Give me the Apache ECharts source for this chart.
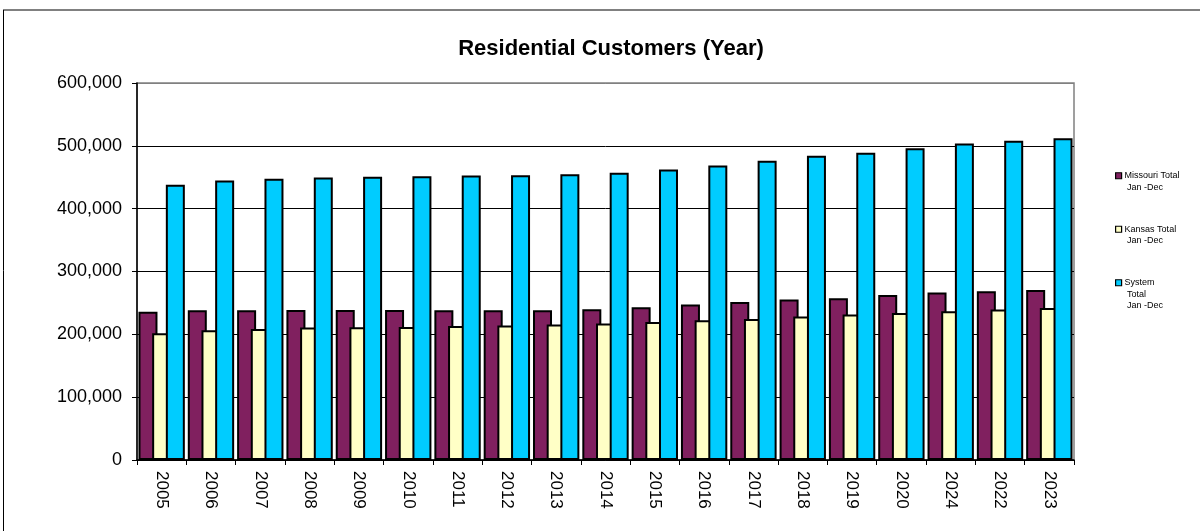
<!DOCTYPE html>
<html>
<head>
<meta charset="utf-8">
<script src="https://cdn.jsdelivr.net/npm/echarts@6/dist/echarts.min.js"></script>
<style>
html,body{margin:0;padding:0;background:#fff;}
#chart{width:1200px;height:531px;}
</style>
</head>
<body>
<div id="chart"></div>
<script>
const years = ['2005','2006','2007','2008','2009','2010','2011','2012','2013','2014','2015','2016','2017','2018','2019','2020','2024','2022','2023'];
const missouri = [236000, 238300, 238300, 238900, 238900, 238900, 238300, 238300, 238300, 239900, 243100, 247300, 251600, 255300, 257400, 262700, 266400, 268600, 270700];
const kansas = [201700, 206500, 208600, 210700, 211300, 211800, 213400, 213900, 215500, 217100, 219700, 222400, 224500, 228200, 231400, 234100, 236800, 239400, 242000];
const system = [437900, 444700, 447500, 449600, 450600, 451700, 452700, 453300, 454900, 457000, 462300, 468600, 476100, 484100, 488900, 496300, 503700, 508000, 512200];
const seriesNames = ['Missouri Total Jan -Dec', 'Kansas Total Jan -Dec', 'System Total Jan -Dec'];
const legendLabels = ['\nMissouri Total\n Jan -Dec', '\nKansas Total\n Jan -Dec', '\n\nSystem\n Total\n Jan -Dec'];
const colors = ['#80205F', '#FFFFC6', '#00CCFF'];
const title = 'Residential Customers (Year)';

const FONT = 'Liberation Sans, Arial, sans-serif';
const chart = echarts.init(document.getElementById('chart'));

function mkLegend(i, top) {
  return {
    data: [seriesNames[i]],
    left: 1115, top: top, padding: 0,
    orient: 'vertical',
    icon: 'rect', itemWidth: 6, itemHeight: 6,
    itemStyle: { borderColor: '#000', borderWidth: 1.2 },
    formatter: function () { return legendLabels[i]; },
    textStyle: { fontFamily: FONT, fontSize: 9, lineHeight: 11.5, color: '#000', padding: [0,0,0,-2] },
    selectedMode: false
  };
}

const seriesData = [missouri, kansas, system];

chart.setOption({
  animation: false,
  backgroundColor: '#fff',
  title: {
    text: title, left: 606, textAlign: 'center', top: 33,
    textStyle: { fontFamily: FONT, fontSize: 22, fontWeight: 'bold', color: '#000' }
  },
  legend: [mkLegend(0, 158.5), mkLegend(1, 212), mkLegend(2, 254)],
  grid: { left: 137, right: 126, top: 83, bottom: 71, show: true, borderColor: '#808080', borderWidth: 1.5, backgroundColor: '#fff' },
  xAxis: {
    type: 'category', data: years,
    axisLine: { lineStyle: { color: '#000', width: 1.5 } },
    axisTick: { show: true, length: 5, lineStyle: { color: '#000' } },
    axisLabel: { rotate: -90, margin: 11, fontFamily: FONT, fontSize: 17, color: '#000' }
  },
  yAxis: {
    type: 'value', min: 0, max: 600000, interval: 100000,
    axisLine: { show: true, lineStyle: { color: '#000', width: 1.5 } },
    axisTick: { show: true, length: 5, lineStyle: { color: '#000' } },
    splitLine: { show: true, lineStyle: { color: ['#000','#000','#000','#000','#000','#000','#808080'], width: 1 } },
    axisLabel: {
      margin: 15, fontFamily: FONT, fontSize: 18, color: '#000',
      formatter: function (v) { return v.toLocaleString('en-US'); }
    }
  },
  series: seriesData.map(function (d, i) {
    return {
      name: seriesNames[i], type: 'bar', data: d,
      barWidth: 19, barGap: '-28%',
      itemStyle: { color: colors[i], borderColor: '#000', borderWidth: 2 }
    };
  }),
  graphic: [
    { type: 'line', shape: { x1: 3, y1: 10, x2: 1200, y2: 10 }, style: { stroke: '#808080', lineWidth: 2 }, silent: true },
    { type: 'line', shape: { x1: 3.5, y1: 10, x2: 3.5, y2: 531 }, style: { stroke: '#000', lineWidth: 1 }, silent: true }
  ]
});
</script>
</body>
</html>
